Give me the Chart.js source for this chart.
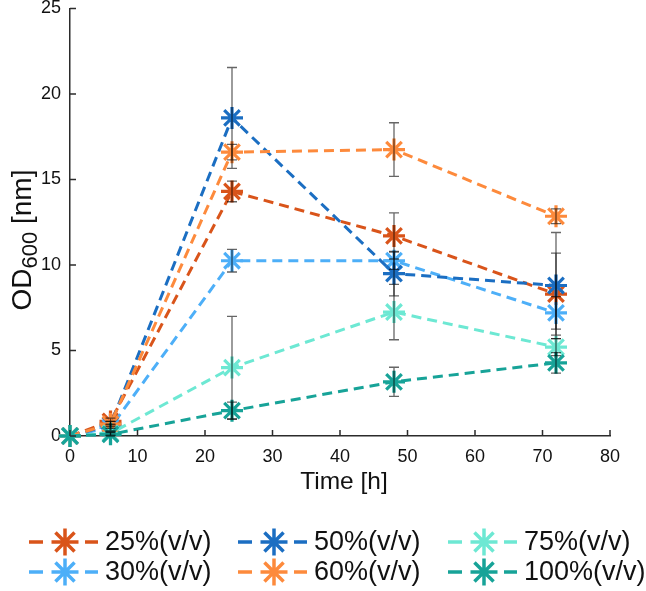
<!DOCTYPE html>
<html>
<head>
<meta charset="utf-8">
<script src="https://cdn.jsdelivr.net/npm/chart.js@4.4.1/dist/chart.umd.min.js"></script>
<style>
  html, body { margin: 0; padding: 0; background: #ffffff; }
  #wrap { width: 646px; height: 591px; position: relative; }
</style>
</head>
<body>
<div id="wrap"><canvas id="c" width="646" height="591"></canvas></div>
<script>
// ---- Data ----
const times = [0, 6, 24, 48, 72];
const labels = ['25%(v/v)', '30%(v/v)', '50%(v/v)', '60%(v/v)', '75%(v/v)', '100%(v/v)'];
const v25  = [0, 0.85, 14.3, 11.7, 8.3];
const v30  = [0, 0.5, 10.25, 10.25, 7.2];
const v50  = [0, 0.65, 18.6, 9.5, 8.8];
const v60  = [0, 0.7, 16.6, 16.75, 12.85];
const v75  = [0, 0.15, 4.0, 7.25, 5.2];
const v100 = [0, 0.1, 1.48, 3.17, 4.28];
const e25  = [0, 0.2, 0.6, 1.35, 2.4];
const e30  = [0, 0.2, 0.66, 0.5, 0.95];
const e50  = [0, 0.2, 2.95, 1.3, 3.1];
const e60  = [0, 0.15, 0.45, 1.57, 0.43];
const e75  = [0, 0.1, 3.0, 1.62, 0.5];
const e100 = [0, 0.1, 0.5, 0.85, 0.6];
const xTicks = [0, 10, 20, 30, 40, 50, 60, 70, 80];
const yTicks = [0, 5, 10, 15, 20, 25];
const xTitle = 'Time [h]';
const yTitleMain = 'OD';
const yTitleSub = '600';
const yTitleUnit = ' [nm]';

const values = [v25, v30, v50, v60, v75, v100];
const errors = [e25, e30, e50, e60, e75, e100];
const colors = ['#D9541A', '#4DAFF8', '#1B6EC2', '#FD8A3C', '#6DE8D3', '#17A398'];

const FONT = "'Liberation Sans', Arial, Helvetica, sans-serif";
const AXIS_COLOR = '#2b2b2b';

const datasets = values.map((vals, i) => ({
  label: labels[i],
  data: times.map((t, k) => ({ x: t, y: vals[k] })),
  borderColor: colors[i],
  backgroundColor: colors[i],
  borderWidth: 3,
  borderDash: [10, 6],
  pointStyle: 'star',
  pointRadius: 11,
  pointHoverRadius: 11,
  pointBorderWidth: 3.2,
  pointBorderColor: colors[i],
  tension: 0,
  fill: false,
  clip: false,
  order: values.length - i
}));

const decor = {
  id: 'decor',
  afterDatasetsDraw(chart) {
    const { ctx, scales: { x, y } } = chart;
    ctx.save();
    ctx.strokeStyle = 'rgba(0,0,0,0.6)';
    ctx.lineWidth = 1.3;
    values.forEach((vals, si) => {
      times.forEach((t, k) => {
        const e = errors[si][k];
        if (!e) return;
        const px = x.getPixelForValue(t);
        const yt = y.getPixelForValue(vals[k] + e);
        const yb = y.getPixelForValue(Math.max(0, vals[k] - e));
        ctx.beginPath();
        ctx.moveTo(px, yt); ctx.lineTo(px, yb);
        ctx.moveTo(px - 5, yt); ctx.lineTo(px + 5, yt);
        ctx.moveTo(px - 5, yb); ctx.lineTo(px + 5, yb);
        ctx.stroke();
      });
    });
    ctx.restore();
  },
  afterDraw(chart) {
    const { ctx, scales: { x, y }, chartArea } = chart;
    ctx.save();
    // inward ticks
    ctx.strokeStyle = AXIS_COLOR;
    ctx.lineWidth = 1.5;
    ctx.beginPath();
    xTicks.forEach(t => {
      const px = x.getPixelForValue(t);
      ctx.moveTo(px, chartArea.bottom); ctx.lineTo(px, chartArea.bottom - 6);
    });
    yTicks.forEach(t => {
      const py = y.getPixelForValue(t);
      ctx.moveTo(chartArea.left, py); ctx.lineTo(chartArea.left + 6, py);
    });
    ctx.stroke();

    // x title
    ctx.fillStyle = '#111';
    ctx.font = '24.5px ' + FONT;
    ctx.textAlign = 'center';
    ctx.textBaseline = 'middle';
    ctx.fillText(xTitle, (chartArea.left + chartArea.right) / 2 + 4, 482);

    // y title with subscript
    const mainF = '28px ' + FONT, subF = '22px ' + FONT;
    ctx.font = mainF; const w1 = ctx.measureText(yTitleMain).width;
    ctx.font = subF;  const w2 = ctx.measureText(yTitleSub).width;
    ctx.font = mainF; const w3 = ctx.measureText(yTitleUnit).width;
    const tot = w1 + w2 + w3;
    ctx.translate(22, 240);
    ctx.rotate(-Math.PI / 2);
    ctx.textAlign = 'left';
    ctx.textBaseline = 'alphabetic';
    let cx = -tot / 2;
    ctx.font = mainF; ctx.fillText(yTitleMain, cx, 9); cx += w1;
    ctx.font = subF;  ctx.fillText(yTitleSub, cx, 15); cx += w2;
    ctx.font = mainF; ctx.fillText(yTitleUnit, cx, 9);
    ctx.setTransform(1, 0, 0, 1, 0, 0);

    // legend (3 columns x 2 rows, column-major)
    const colX = [29, 238, 448];
    const rowY = [542, 572];
    labels.forEach((lab, i) => {
      const col = Math.floor(i / 2), row = i % 2;
      const x0 = colX[col], yy = rowY[row];
      ctx.strokeStyle = colors[i];
      ctx.lineWidth = 3.5;
      ctx.setLineDash([]);
      ctx.beginPath();
      ctx.moveTo(x0, yy); ctx.lineTo(x0 + 14, yy);
      ctx.moveTo(x0 + 56, yy); ctx.lineTo(x0 + 69, yy);
      ctx.stroke();
      const cxm = x0 + 36, r = 13.5;
      ctx.beginPath();
      for (let a = 0; a < 4; a++) {
        const ang = a * Math.PI / 4;
        ctx.moveTo(cxm - r * Math.cos(ang), yy - r * Math.sin(ang));
        ctx.lineTo(cxm + r * Math.cos(ang), yy + r * Math.sin(ang));
      }
      ctx.stroke();
      ctx.fillStyle = '#111';
      ctx.font = '27px ' + FONT;
      ctx.textAlign = 'left';
      ctx.textBaseline = 'middle';
      ctx.fillText(lab, x0 + 76, yy + 1);
    });
    ctx.restore();
  }
};

new Chart(document.getElementById('c'), {
  type: 'line',
  data: { datasets },
  plugins: [decor],
  options: {
    responsive: false,
    animation: false,
    events: [],
    layout: { autoPadding: false, padding: { left: 0, right: 36, top: 8.5, bottom: 0 } },
    plugins: { legend: { display: false }, tooltip: { enabled: false }, title: { display: false } },
    scales: {
      x: {
        type: 'linear',
        min: 0, max: 80,
        afterFit(s) { s.height = 155; s.paddingLeft = 0; s.paddingRight = 0; },
        afterBuildTicks(s) { s.ticks = xTicks.map(v => ({ value: v })); },
        grid: { display: false, drawTicks: false },
        border: { display: true, color: AXIS_COLOR, width: 1.5 },
        ticks: { color: '#111', font: { family: FONT, size: 18 }, padding: 10, maxRotation: 0, autoSkip: false }
      },
      y: {
        type: 'linear',
        min: 0, max: 25,
        afterFit(s) { s.width = 70; s.paddingTop = 0; s.paddingBottom = 0; },
        afterBuildTicks(s) { s.ticks = yTicks.map(v => ({ value: v })); },
        grid: { display: false, drawTicks: false },
        border: { display: true, color: AXIS_COLOR, width: 1.5 },
        ticks: { color: '#111', font: { family: FONT, size: 18 }, padding: 9, autoSkip: false }
      }
    }
  }
});
</script>
</body>
</html>
